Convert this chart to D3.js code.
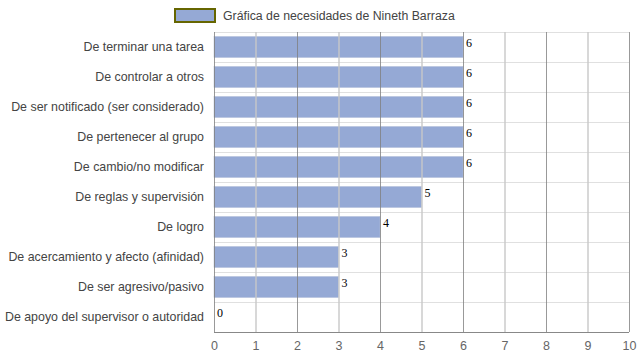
<!DOCTYPE html>
<html><head><meta charset="utf-8">
<script src="https://cdn.jsdelivr.net/npm/d3@7"></script>
<style>body{margin:0;background:#fff}svg{display:block}</style>
</head><body>
<script>
const categories = ["De terminar una tarea","De controlar a otros","De ser notificado (ser considerado)","De pertenecer al grupo","De cambio/no modificar","De reglas y supervisión","De logro","De acercamiento y afecto (afinidad)","De ser agresivo/pasivo","De apoyo del supervisor o autoridad"];
const values = [6,6,6,6,6,5,4,3,3,0];
const ticks = [0,1,2,3,4,5,6,7,8,9,10];
const seriesName = "Gráfica de necesidades de Nineth Barraza";

const W=639,H=360, L=214, R=629, T=32, B=332;
const svg=d3.select("body").append("svg").attr("width",W).attr("height",H)
  .style("font-family","'Liberation Sans', Arial, sans-serif");
const x=d3.scaleLinear().domain([0,10]).range([L,R]);
const y=d3.scaleBand().domain(categories).range([T,B]).paddingInner(0.3).paddingOuter(0.15);
const step=y.step();

// horizontal gridlines
const g=svg.append("g");
d3.range(categories.length+1).forEach(i=>{
  g.append("line").attr("x1",L).attr("x2",R).attr("y1",T+i*step+0.5).attr("y2",T+i*step+0.5)
   .attr("stroke","#e0e0e0").attr("stroke-width",1);
});
// bars
svg.append("g").selectAll("rect").data(values).join("rect")
  .attr("x",x(0)).attr("y",(d,i)=>y(categories[i]))
  .attr("width",d=>x(d)-x(0)).attr("height",y.bandwidth())
  .attr("fill","#95a9d5").attr("stroke","#b0bcd8").attr("stroke-width",0.5);
// vertical gridlines on top
const vg=svg.append("g");
ticks.forEach(t=>{
  const odd=t%2===1;
  vg.append("line").attr("x1",x(t)+0.5).attr("x2",x(t)+0.5).attr("y1",T).attr("y2",B)
    .attr("stroke",odd?"#c8c8c8":"#808080").attr("stroke-width",odd?2:1)
    .attr("stroke-opacity",odd?0.7:0.8);
});
// bottom axis line
svg.append("line").attr("x1",L).attr("x2",R).attr("y1",B+0.5).attr("y2",B+0.5).attr("stroke","#888");
// x axis labels
const ax=svg.append("g").attr("transform",`translate(0,${B})`)
  .call(d3.axisBottom(x).tickValues(ticks).tickSize(0).tickPadding(9).tickFormat(d3.format("d")));
ax.select(".domain").remove();
ax.selectAll("text").attr("fill","#666").style("font-size","12.5px").style("font-family","'Liberation Sans', Arial, sans-serif");
// category labels
const ay=svg.append("g").attr("transform",`translate(${L},0)`)
  .call(d3.axisLeft(y).tickSize(0).tickPadding(10));
ay.select(".domain").remove();
ay.selectAll("text").attr("fill","#444").style("font-size","12.4px").style("font-family","'Liberation Sans', Arial, sans-serif");
// value labels
svg.append("g").selectAll("text").data(values).join("text")
  .attr("x",d=>x(d)+3).attr("y",(d,i)=>y(categories[i])+10)
  .attr("fill","#000").style("font-family","'Liberation Serif', 'Times New Roman', serif").style("font-size","12px")
  .text(d=>d);
// legend
svg.append("rect").attr("x",175).attr("y",9).attr("width",40).attr("height",13)
  .attr("fill","#95a9d5").attr("stroke","#666600").attr("stroke-width",2);
svg.append("text").attr("x",223).attr("y",20).attr("fill","#444").style("font-size","12.3px").text(seriesName);
</script>
</body></html>
